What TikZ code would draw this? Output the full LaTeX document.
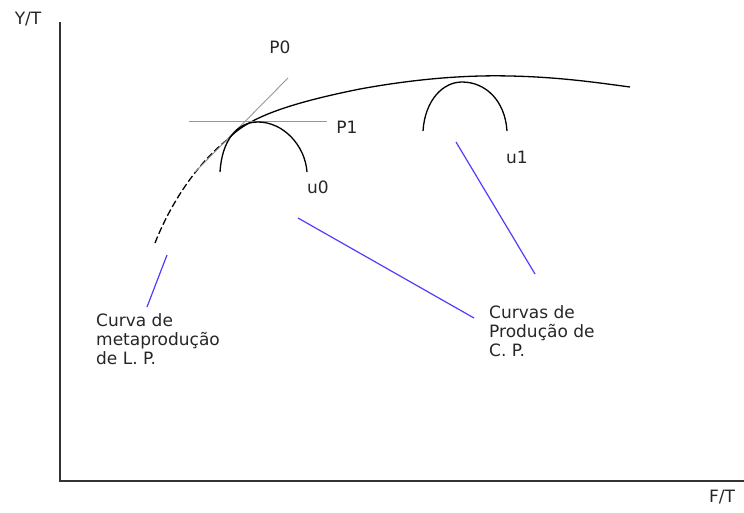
\documentclass[tikz,border=0pt]{standalone}
\usepackage{fontspec}
\setmainfont{DejaVu Sans}
\definecolor{pointer}{RGB}{80,60,255}
\definecolor{tangentgrey}{RGB}{150,150,150}
\begin{document}
\begin{tikzpicture}[x=1pt,y=-1pt,
  lbl/.style={inner sep=0pt,font=\fontsize{17}{19}\selectfont,text=black!85},
  blk/.style={align=left,anchor=north west,inner sep=0pt,font=\fontsize{17}{19}\selectfont,text=black!85},
  axis/.style={line width=1.4pt,black!80},
  curve/.style={line width=1.3pt,black},
  tline/.style={line width=0.9pt,tangentgrey},
  ptr/.style={line width=1.2pt,pointer}]
\useasboundingbox (0,0) rectangle (744,512);
% axes
\coordinate (O) at (60,481);
\coordinate (Ytop) at (60,22);
\coordinate (Xend) at (744,481);
\draw[axis] (Ytop) -- (O) -- (Xend);
\node[lbl] (yt) at (28,19) {Y/T};
\node[lbl] (ft) at (722,497) {F/T};
% metaproduction curve
\coordinate (m0) at (155,243);
\coordinate (m1) at (228,139);
\coordinate (m2) at (360,89);
\coordinate (m3) at (510,76);
\coordinate (m4) at (630,87);
\draw[curve,dash pattern=on 7pt off 3pt] (m0) .. controls (168,210) and (192,168) .. (m1);
\draw[curve] (m1) .. controls (246,120) and (280,105) .. (m2)
  .. controls (420,78) and (470,75) .. (m3)
  .. controls (560,77) and (600,83) .. (m4);
% tangent lines
\coordinate (p0a) at (195,172);
\coordinate (p0b) at (288,78);
\coordinate (p1a) at (189,121);
\coordinate (p1b) at (327,121);
\draw[tline] (p0a) -- (p0b);
\draw[tline] (p1a) -- (p1b);
\node[lbl] (P0) at (280,47) {P0};
\node[lbl] (P1) at (347,127) {P1};
% short-run curves
\coordinate (u0a) at (220,172);
\coordinate (u0t) at (258,122);
\coordinate (u0b) at (307,172);
\draw[curve] (u0a) .. controls (222,140) and (237,122) .. (u0t)
  .. controls (283,122) and (305,145) .. (u0b);
\coordinate (u1a) at (423,131);
\coordinate (u1t) at (462,82);
\coordinate (u1b) at (507,131);
\draw[curve] (u1a) .. controls (425,100) and (443,82) .. (u1t)
  .. controls (485,82) and (505,100) .. (u1b);
\node[lbl] (u0) at (318,187) {u0};
\node[lbl] (u1) at (517,157) {u1};
% labels
\node[blk] (meta) at (96,313) {Curva de\\metaprodução\\de L. P.};
\node[blk] (prod) at (489,305) {Curvas de\\Produção de\\C. P.};
% pointers
\coordinate (a1) at (147,307);
\coordinate (a2) at (167,255);
\coordinate (b1) at (474,318);
\coordinate (b2) at (298,218);
\coordinate (c1) at (535,274);
\coordinate (c2) at (456,142);
\draw[ptr] (a1) -- (a2);
\draw[ptr] (b1) -- (b2);
\draw[ptr] (c1) -- (c2);
\end{tikzpicture}
\end{document}
